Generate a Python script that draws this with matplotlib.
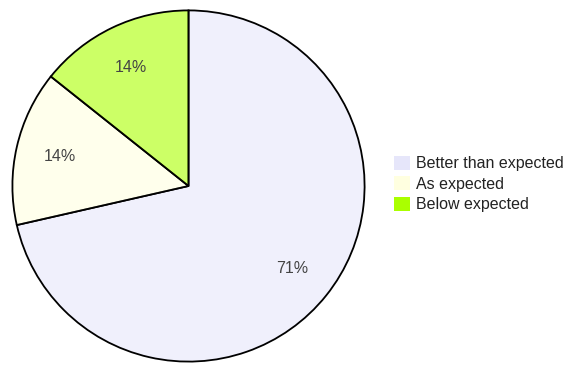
import matplotlib.pyplot as plt
from matplotlib.colors import to_rgba
from matplotlib.patches import Patch

labels = ['Better than expected', 'As expected', 'Below expected']
counts = [5, 1, 1]
colors = ['#e6e6fa', '#ffffe0', '#aaff00']

plt.rcParams['font.family'] = ['Liberation Sans', 'DejaVu Sans']

fig = plt.figure(figsize=(5.69, 3.65), dpi=100)
ax = fig.add_axes([11 / 569, 2 / 365, 355 / 569, 354 / 365])

# slices are the legend colours washed out over white
faded = [to_rgba(c, 0.6) for c in colors]
wedges, texts, autotexts = ax.pie(counts, colors=faded, startangle=90, counterclock=False,
                                  autopct='%1.0f%%', pctdistance=0.75,
                                  wedgeprops={'edgecolor': 'black', 'linewidth': 1.3})
for t in autotexts:
    t.set_color('#444444')
    t.set_fontsize(11.5)
ax.set_xlim(-1.008, 1.008)
ax.set_ylim(-1.008, 1.008)
ax.set_aspect('auto')

handles = [Patch(facecolor=c, edgecolor='none') for c in colors]
fig.legend(handles, labels, loc='center left', bbox_to_anchor=(394 / 569, 1 - 184 / 365),
           frameon=False, fontsize=11.5, labelcolor='#222222', handlelength=1.0,
           handleheight=1.0, handletextpad=0.35, labelspacing=0.3, borderpad=0,
           borderaxespad=0)

fig.savefig('out.png', dpi=100)
